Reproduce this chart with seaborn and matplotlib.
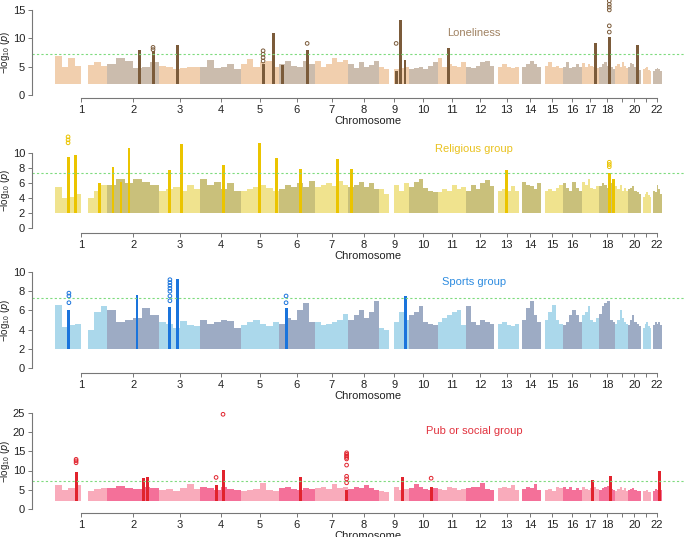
import numpy as np
import pandas as pd
import matplotlib
matplotlib.use("Agg")
import matplotlib.pyplot as plt
import seaborn as sns

sns.set_style("ticks")
plt.rcParams['font.family'] = ['Liberation Sans', 'DejaVu Sans']
plt.rcParams['mathtext.default'] = 'regular'

# chromosome lengths (Mb)
chrom_len = [249, 243, 198, 191, 181, 171, 159, 146, 141, 136, 135,
             134, 115, 107, 103, 90, 81, 78, 59, 63, 48, 51]
chrom_names = [str(i) for i in range(1, 23)]

# skyline of the background SNP cloud, -log10(p) per bin, 0 = no SNPs
lonely_sky = [
    [6.9, 5.0, 6.5, 5.2, 0, 5.3, 5.8, 5.2],
    [5.5, 6.5, 6.0, 4.8, 5.0, 5.8],
    [5.2, 5.0, 4.6, 4.8, 5.0, 4.9],
    [5.0, 6.2, 4.7, 4.9, 5.4, 4.5],
    [5.5, 6.3, 5.0, 5.8, 6.0, 5.0],
    [5.5, 6.0, 5.2, 5.0, 6.0, 5.5],
    [6.0, 5.0, 5.4, 6.5, 5.8, 6.2],
    [5.5, 4.8, 5.8, 5.0, 5.3, 6.0],
    [5.0, 4.6, 0, 4.6, 4.8, 5.0],
    [4.5, 4.8, 5.0, 4.6, 5.2, 5.8],
    [6.5, 5.0, 5.5, 5.2, 5.0, 5.8],
    [5.0, 4.8, 5.2, 5.8, 6.0, 5.2],
    [0, 5.0, 5.4, 5.0, 4.8, 5.0],
    [0, 5.0, 5.5, 6.0, 5.4, 5.0],
    [0, 5.2, 5.8, 5.0, 5.2, 4.8],
    [5.0, 5.8, 4.8, 5.0, 5.4, 5.0],
    [5.6, 5.0, 5.4, 5.2, 5.0, 4.8],
    [5.0, 5.4, 5.8, 5.2, 5.0, 4.6],
    [5.2, 5.4, 5.0, 5.8, 5.2, 4.8],
    [5.0, 5.6, 5.4, 5.0, 4.6, 4.4],
    [0, 4.6, 4.8, 5.0, 4.4, 4.2],
    [0, 4.2, 4.6, 4.8, 4.5, 4.2],
]
religious_sky = [
    [5.5, 4.0, 4.2, 4.5, 0, 4.0, 5.0, 5.8],
    [5.8, 6.6, 6.0, 6.5, 6.2, 5.8],
    [5.0, 5.2, 5.5, 5.0, 5.8, 5.2],
    [6.5, 5.8, 6.2, 5.2, 6.0, 5.0],
    [5.0, 5.2, 5.5, 5.8, 5.3, 5.0],
    [5.2, 5.8, 5.5, 6.0, 5.5, 6.3],
    [5.5, 5.8, 6.0, 5.6, 6.3, 5.8],
    [5.5, 5.8, 6.2, 5.5, 6.0, 5.2],
    [5.2, 4.6, 0, 5.8, 5.0, 6.0],
    [5.5, 6.2, 6.5, 5.3, 5.0, 4.8],
    [4.8, 5.2, 5.0, 5.8, 5.2, 5.5],
    [5.0, 5.8, 5.2, 6.0, 6.4, 5.6],
    [0, 5.0, 5.2, 5.0, 5.6, 5.0],
    [0, 6.2, 5.8, 5.6, 5.2, 6.0],
    [0, 5.0, 5.2, 5.0, 5.4, 5.8],
    [6.0, 5.4, 5.0, 6.2, 5.4, 5.0],
    [6.2, 5.8, 6.5, 5.4, 5.2, 5.6],
    [5.6, 6.0, 5.8, 5.4, 6.0, 5.0],
    [5.6, 5.2, 5.8, 5.0, 5.4, 5.0],
    [5.2, 5.4, 5.6, 5.0, 4.8, 4.6],
    [0, 4.2, 4.6, 4.8, 4.4, 4.2],
    [0, 5.0, 4.8, 5.8, 5.2, 4.6],
]
sports_sky = [
    [6.6, 4.3, 4.5, 4.6, 0, 4.0, 5.8, 6.5],
    [6.0, 4.8, 5.0, 5.2, 6.2, 5.5],
    [4.8, 4.6, 4.2, 4.9, 4.5, 4.4],
    [5.0, 4.6, 4.8, 5.0, 4.9, 4.2],
    [4.5, 4.8, 5.0, 4.6, 4.4, 4.8],
    [4.6, 5.2, 5.0, 6.0, 6.8, 4.8],
    [4.8, 4.5, 4.6, 4.8, 5.0, 5.6],
    [5.0, 5.5, 6.0, 5.2, 5.8, 7.0],
    [4.2, 4.0, 0, 4.8, 5.8, 5.0],
    [5.5, 5.8, 6.5, 4.8, 4.6, 4.5],
    [4.8, 5.2, 5.5, 5.8, 6.0, 4.5],
    [6.5, 4.8, 4.5, 5.0, 4.8, 4.6],
    [0, 4.6, 4.8, 4.5, 4.4, 4.6],
    [0, 5.0, 6.2, 7.0, 5.5, 4.8],
    [0, 5.0, 5.8, 6.6, 5.0, 4.6],
    [4.5, 4.8, 5.5, 6.0, 5.5, 4.8],
    [5.5, 5.8, 6.5, 5.0, 4.8, 5.2],
    [5.6, 6.5, 6.8, 7.0, 5.0, 4.8],
    [4.6, 5.0, 6.0, 5.2, 4.8, 4.6],
    [4.5, 5.0, 5.5, 4.8, 4.6, 4.4],
    [0, 4.2, 4.6, 4.8, 4.4, 4.2],
    [0, 4.5, 4.8, 4.6, 4.8, 4.5],
]
pub_sky = [
    [6.2, 5.0, 5.5, 6.2, 0, 4.8, 5.2, 5.5],
    [5.5, 6.0, 5.5, 5.2, 5.8, 5.5],
    [5.0, 5.2, 4.8, 5.5, 6.5, 5.2],
    [5.8, 5.5, 5.0, 5.6, 5.2, 5.0],
    [4.8, 5.0, 5.2, 6.8, 5.0, 4.8],
    [5.5, 5.8, 5.2, 5.0, 5.4, 5.2],
    [5.4, 5.8, 5.2, 6.5, 5.5, 5.8],
    [5.2, 5.8, 5.5, 6.2, 5.4, 5.0],
    [4.8, 4.5, 0, 5.6, 5.0, 5.2],
    [5.5, 6.5, 5.8, 5.2, 5.0, 5.4],
    [5.2, 5.0, 5.8, 5.4, 5.0, 5.2],
    [5.4, 5.6, 5.8, 6.8, 5.2, 5.0],
    [0, 5.4, 5.8, 5.5, 6.2, 5.0],
    [0, 5.2, 5.8, 5.4, 6.5, 5.0],
    [0, 5.0, 5.2, 4.8, 5.6, 5.4],
    [5.6, 5.2, 5.8, 5.0, 5.4, 5.0],
    [5.8, 5.2, 5.0, 5.4, 5.6, 5.2],
    [5.0, 5.4, 5.8, 6.0, 5.2, 5.0],
    [4.8, 5.2, 5.6, 5.0, 5.4, 4.8],
    [5.0, 5.2, 5.4, 5.0, 4.8, 4.6],
    [0, 4.6, 4.8, 5.0, 4.5, 4.4],
    [0, 4.8, 5.2, 5.0, 5.4, 5.0],
]

# significant loci: chromosome, position (Mb), top of the dense column
lonely_hit_chr = [2, 2, 3, 5, 5, 6, 6, 9, 9, 9, 11, 17, 18, 20]
lonely_hit_pos = [154, 216, 87, 106, 154, 15, 134, 80, 99, 122, 50, 64, 49, 45]
lonely_hit_top = [7.9, 7.8, 8.8, 5.5, 11.0, 5.3, 8.0, 4.2, 13.2, 6.2, 8.3, 9.2, 10.2, 8.8]
lonely_pt_chr = [2, 2, 5, 5, 5, 5, 6, 9, 18, 18, 18, 18, 18, 18]
lonely_pt_pos = [216, 216, 106, 106, 106, 106, 134, 80, 49, 49, 49, 49, 49, 49]
lonely_pt_y = [8.0, 8.4, 6.0, 6.6, 7.2, 7.8, 9.1, 9.1, 11.1, 12.2, 15.0, 15.5, 16.0, 16.6]

religious_hit_chr = [1, 1, 1, 2, 2, 2, 3, 3, 4, 5, 5, 6, 7, 8, 13, 18, 18]
religious_hit_pos = [62, 95, 209, 26, 64, 102, 53, 110, 107, 87, 168, 101, 105, 13, 57, 49, 68]
religious_hit_top = [9.5, 9.8, 6.0, 8.2, 6.2, 10.7, 7.7, 11.2, 8.4, 11.4, 9.4, 7.9, 9.2, 7.9, 7.8, 7.3, 6.6]
religious_pt_chr = [1, 1, 1, 18, 18, 18]
religious_pt_pos = [62, 62, 62, 49, 49, 49]
religious_pt_y = [11.4, 11.8, 12.2, 8.2, 8.5, 8.8]

sports_hit_chr = [1, 2, 3, 3, 6, 9]
sports_hit_pos = [66, 140, 53, 87, 34, 124]
sports_hit_top = [6.0, 7.6, 6.4, 9.3, 6.3, 7.5]
sports_pt_chr = [1, 1, 1, 3, 3, 3, 3, 3, 3, 3, 6, 6]
sports_pt_pos = [66, 66, 66, 53, 53, 53, 53, 53, 53, 53, 34, 34]
sports_pt_y = [6.8, 7.5, 7.8, 7.0, 7.5, 8.0, 8.3, 8.6, 8.9, 9.2, 6.8, 7.5]

pub_hit_chr = [1, 2, 2, 4, 4, 6, 7, 9, 10, 17, 18, 22]
pub_hit_pos = [100, 169, 188, 74, 107, 101, 150, 108, 105, 50, 54, 39]
pub_hit_top = [9.7, 8.0, 8.3, 6.2, 10.1, 8.3, 5.0, 8.3, 5.7, 7.5, 8.6, 9.9]
pub_pt_chr = [1, 1, 1, 4, 4, 7, 7, 7, 7, 7, 7, 7, 7, 7, 10]
pub_pt_pos = [100, 100, 100, 74, 107, 150, 150, 150, 150, 150, 150, 150, 150, 150, 105]
pub_pt_y = [12.0, 12.5, 12.9, 8.2, 24.6, 6.8, 7.8, 8.5, 11.4, 13.0, 13.4, 13.8, 14.2, 14.6, 8.0]

sig_line = -np.log10(5e-8)

cum_start = np.concatenate([[0], np.cumsum(chrom_len)[:-1]])
mids = cum_start + np.array(chrom_len) / 2.0

FIG_W, FIG_H = 685, 537
X0_PX, PX_PER_MB = 55, 607 / sum(chrom_len)
AX_L, AX_R = 32, 685

panels = [
    dict(title="Loneliness", sky=lonely_sky,
         hits=(lonely_hit_chr, lonely_hit_pos, lonely_hit_top),
         pts=(lonely_pt_chr, lonely_pt_pos, lonely_pt_y),
         light="#F1CFAE", dark="#CBBCAD", hit="#7B5B3A", tcol="#A08262",
         axis_px=98, zero_px=95, ppu=5.67, top_px=2, ytop=15, ystep=5,
         drop=["19", "21"], title_px=33),
    dict(title="Religious group", sky=religious_sky,
         hits=(religious_hit_chr, religious_hit_pos, religious_hit_top),
         pts=(religious_pt_chr, religious_pt_pos, religious_pt_y),
         light="#F0E38E", dark="#C9C07B", hit="#EBC400", tcol="#E9C21F",
         axis_px=233, zero_px=228, ppu=7.47, top_px=133, ytop=10, ystep=2,
         drop=["17", "19", "21"], title_px=149),
    dict(title="Sports group", sky=sports_sky,
         hits=(sports_hit_chr, sports_hit_pos, sports_hit_top),
         pts=(sports_pt_chr, sports_pt_pos, sports_pt_y),
         light="#ABD8EB", dark="#9DABC4", hit="#1A74DC", tcol="#2E8CE0",
         axis_px=373, zero_px=368, ppu=9.6, top_px=268, ytop=10, ystep=2,
         drop=["17", "19", "21"], title_px=282),
    dict(title="Pub or social group", sky=pub_sky,
         hits=(pub_hit_chr, pub_hit_pos, pub_hit_top),
         pts=(pub_pt_chr, pub_pt_pos, pub_pt_y),
         light="#F9ABBB", dark="#F47099", hit="#E1232D", tcol="#E2333F",
         axis_px=513, zero_px=509, ppu=3.85, top_px=408, ytop=25, ystep=5,
         drop=["19", "21"], title_px=431),
]

fig = plt.figure(figsize=(FIG_W / 100, FIG_H / 100), dpi=100)
for p in panels:
    h_px = p["axis_px"] - p["top_px"]
    ax = fig.add_axes([AX_L / FIG_W, 1 - p["axis_px"] / FIG_H,
                       (AX_R - AX_L) / FIG_W, h_px / FIG_H])
    ax.set_xlim((AX_L - X0_PX) / PX_PER_MB, (AX_R - X0_PX) / PX_PER_MB)
    ax.set_ylim(-(p["axis_px"] - p["zero_px"]) / p["ppu"],
                (p["zero_px"] - p["top_px"]) / p["ppu"])

    # background cloud
    xs, hs, ws, cs = [], [], [], []
    for i, sky in enumerate(p["sky"]):
        bw = chrom_len[i] / len(sky)
        for j, v in enumerate(sky):
            if v <= 0:
                continue
            xs.append(cum_start[i] + (j + 0.5) * bw)
            hs.append(v - 2)
            ws.append(bw)
            cs.append(p["light"] if i % 2 == 0 else p["dark"])
    ax.bar(xs, hs, width=ws, bottom=2, color=cs, linewidth=0)

    # dense columns at the associated loci
    hc, hp, ht = p["hits"]
    hx = [cum_start[c - 1] + pos for c, pos in zip(hc, hp)]
    ax.bar(hx, np.array(ht) - 2, width=14, bottom=2, color=p["hit"], linewidth=0)

    # sparse points above columns
    pc, pp, py = p["pts"]
    df = pd.DataFrame({"x": [cum_start[c - 1] + pos for c, pos in zip(pc, pp)],
                       "y": py})
    sns.scatterplot(data=df, x="x", y="y", ax=ax, s=7, marker="o",
                    color=p["hit"], linewidth=0.7, legend=False, clip_on=False)
    ax.collections[-1].set_facecolor("none")
    ax.collections[-1].set_edgecolor(p["hit"])

    ax.axhline(sig_line, color="#7EDB7E", lw=0.8, ls=(0, (2, 2)))

    sns.despine(ax=ax)
    ax.spines["left"].set_bounds(0, p["ytop"])
    ax.spines["bottom"].set_bounds(mids[0], mids[-1])
    for s in ["left", "bottom"]:
        ax.spines[s].set_color("#777777")
        ax.spines[s].set_linewidth(0.8)
    ax.set_yticks(np.arange(0, p["ytop"] + 0.1, p["ystep"]))
    ax.set_xticks(mids)
    ax.set_xticklabels(["" if n in p["drop"] else n for n in chrom_names])
    ax.tick_params(axis="both", length=3, width=0.7, color="#777777",
                   labelsize=8, labelcolor="#222222", pad=2)

    ax.set_ylabel(r"$-$log$_{10}$ ($\it{p}$)", fontsize=7, color="#222222")
    mid_px = p["zero_px"] - p["ytop"] * p["ppu"] / 2
    ax.yaxis.set_label_coords(-(AX_L - 12) / (AX_R - AX_L),
                              (p["axis_px"] - mid_px) / h_px)
    ax.set_xlabel("Chromosome", fontsize=8, color="#222222")
    ax.xaxis.set_label_coords((368 - AX_L) / (AX_R - AX_L), -18 / h_px)

    fig.text(474 / FIG_W, 1 - p["title_px"] / FIG_H, p["title"],
             color=p["tcol"], fontsize=8, ha="center", va="center")

fig.savefig("out.png", dpi=100)
